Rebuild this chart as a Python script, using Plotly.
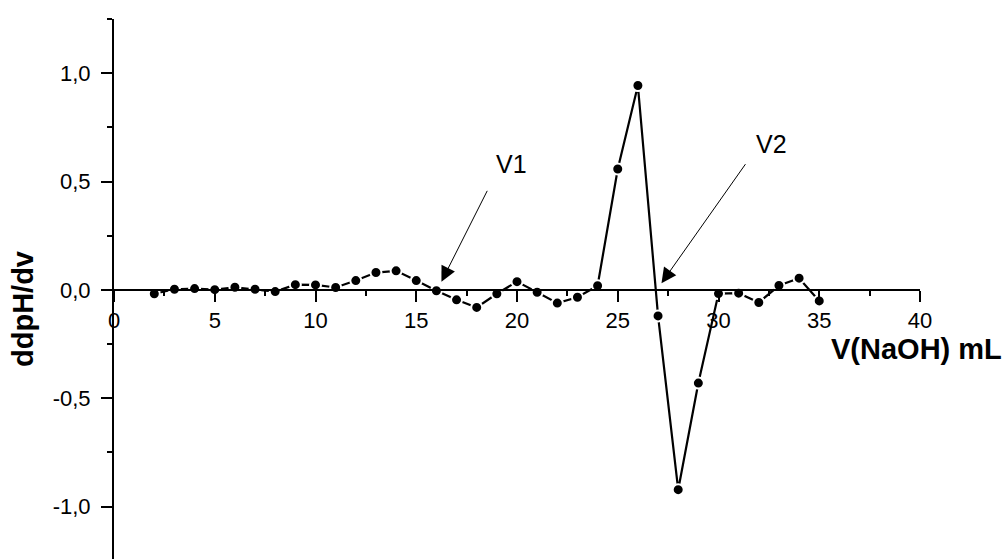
import plotly.graph_objects as go

# Titrant volume (mL) and second derivative of pH
volume_ml = list(range(2, 36))
ddph_dv = [
    -0.018, 0.003, 0.006, 0.001, 0.012, 0.003, -0.008, 0.024, 0.023, 0.011,
    0.043, 0.080, 0.088, 0.043, -0.004, -0.046, -0.081, -0.018, 0.038, -0.011,
    -0.061, -0.034, 0.019, 0.558, 0.943, -0.120, -0.922, -0.430, -0.017, -0.015,
    -0.058, 0.020, 0.054, -0.051,
]

x_ticks = [0, 5, 10, 15, 20, 25, 30, 35, 40]
y_ticks = [-1.0, -0.5, 0.0, 0.5, 1.0]
y_tick_text = ["-1,0", "-0,5", "0,0", "0,5", "1,0"]

# Equivalence points marked with arrows: (label, text pos, arrow tail, arrow tip)
markers_eq = [
    ("V1", (19.74, 0.581), (18.56, 0.464), (16.25, 0.038)),
    ("V2", (32.65, 0.673), (31.39, 0.587), (27.17, 0.031)),
]

FONT = "Liberation Sans, Arial, sans-serif"
Y_MIN, Y_MAX = -1.2419, 1.25

fig = go.Figure()
fig.add_trace(go.Scatter(
    x=volume_ml, y=ddph_dv,
    mode="lines+markers",
    line=dict(color="black", width=2.2),
    marker=dict(symbol="circle", size=11, color="black",
                line=dict(color="white", width=2)),
    showlegend=False,
))

annotations = []
for label, (tx, ty), (ax, ay), (hx, hy) in markers_eq:
    annotations.append(dict(
        x=tx, y=ty, xref="x", yref="y", text=label, showarrow=False,
        font=dict(family=FONT, size=25, color="black"),
        xanchor="center", yanchor="middle",
    ))
    annotations.append(dict(
        x=hx, y=hy, ax=ax, ay=ay, xref="x", yref="y", axref="x", ayref="y",
        text="", showarrow=True, arrowhead=2, arrowsize=3, arrowwidth=1,
        arrowcolor="black",
    ))

# Axis titles
annotations.append(dict(
    x=(22.5 - 114) / 806, y=(559 - 309.5) / 540, xref="paper", yref="paper",
    text="<b>ddpH/dv</b>", textangle=-90, showarrow=False,
    font=dict(family=FONT, size=29, color="black"),
    xanchor="center", yanchor="middle",
))
annotations.append(dict(
    x=(1004 - 114) / 806, y=(559 - 349) / 540, xref="paper", yref="paper",
    text="<b>V(NaOH) mL</b>", showarrow=False,
    font=dict(family=FONT, size=29, color="black"),
    xanchor="right", yanchor="middle",
))

fig.update_layout(
    width=1008, height=559,
    margin=dict(l=114, r=88, t=19, b=0),
    paper_bgcolor="white", plot_bgcolor="white",
    annotations=annotations,
    xaxis=dict(
        range=[0, 40], anchor="free",
        position=(0 - Y_MIN) / (Y_MAX - Y_MIN),
        tickmode="array", tickvals=x_ticks, ticktext=[str(v) for v in x_ticks],
        ticks="outside", ticklen=11, tickwidth=2, tickcolor="black",
        minor=dict(tickvals=[2.5 + 5 * i for i in range(8)], ticks="outside",
                   ticklen=5, tickwidth=2, tickcolor="black"),
        showline=True, linecolor="black", linewidth=2,
        showgrid=False, zeroline=False,
        tickfont=dict(family=FONT, size=22, color="black"),
    ),
    yaxis=dict(
        range=[Y_MIN, Y_MAX],
        tickmode="array", tickvals=y_ticks, ticktext=y_tick_text,
        ticks="outside", ticklen=11, tickwidth=2, tickcolor="black",
        minor=dict(tickvals=[-0.75, -0.25, 0.25, 0.75, 1.25], ticks="outside",
                   ticklen=5, tickwidth=2, tickcolor="black"),
        showline=True, linecolor="black", linewidth=2,
        showgrid=False, zeroline=False,
        ticklabelstandoff=6,
        tickfont=dict(family=FONT, size=22, color="black"),
    ),
)

fig.write_html("out.html")
